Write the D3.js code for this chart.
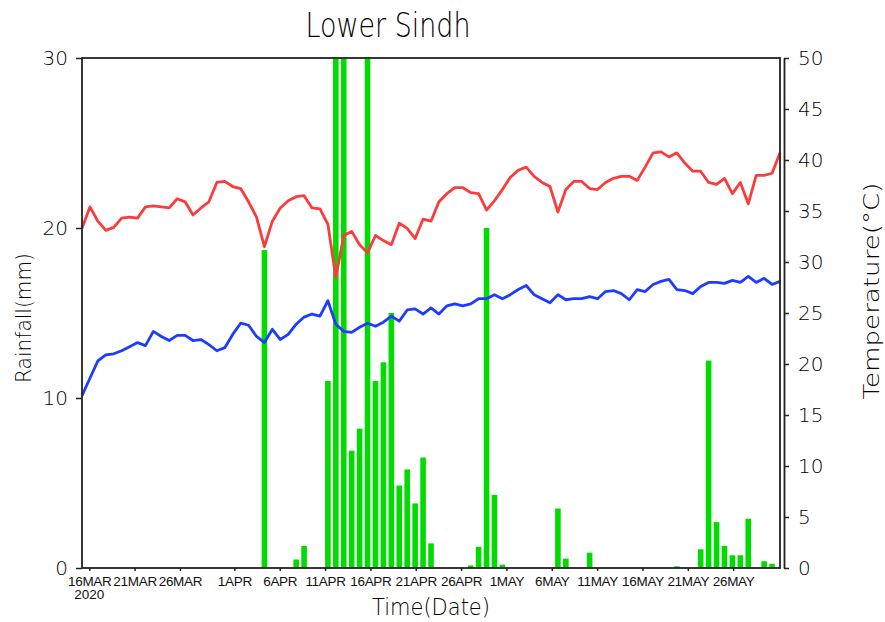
<!DOCTYPE html>
<html>
<head>
<meta charset="utf-8">
<script src="https://cdn.jsdelivr.net/npm/d3@7"></script>
<style>
  body { margin: 0; background: #fff; }
  svg { display: block; font-family: "Liberation Sans", Arial, sans-serif; }
  .thin { font-family: "DejaVu Sans ExtraLight", "DejaVu Sans", "Liberation Sans", sans-serif; font-weight: 200; }
</style>
</head>
<body>
<div id="chart"></div>
<script>
// Daily series (89 steps across the plot)
const rainfall = [
  0, 0, 0, 0, 0, 0, 0, 0, 0, 0,
  0, 0, 0, 0, 0, 0, 0, 0, 0, 0,
  0, 0, 0, 18.7, 0, 0, 0, 0.5, 1.3, 0,
  0, 11.0, 38, 42, 6.9, 8.2, 35, 11.0, 12.1, 15.0,
  4.85, 5.8, 3.8, 6.5, 1.45, 0, 0, 0, 0, 0.15,
  1.25, 20.0, 4.3, 0.2, 0, 0, 0, 0, 0, 0,
  3.5, 0.55, 0, 0, 0.9, 0, 0, 0, 0, 0,
  0, 0, 0, 0, 0, 0.1, 0, 0, 1.1, 12.2,
  2.7, 1.3, 0.75, 0.75, 2.9, 0, 0.4, 0.25, 0
];
const tmax = [
  33.3, 35.4, 34.0, 33.1, 33.4, 34.3, 34.4, 34.3, 35.4, 35.5,
  35.4, 35.3, 36.2, 35.9, 34.6, 35.3, 35.9, 37.8, 37.9, 37.4,
  37.2, 35.9, 34.4, 31.5, 34.0, 35.3, 36.0, 36.4, 36.5, 35.3,
  35.2, 33.7, 28.5, 32.6, 33.0, 31.7, 30.9, 32.6, 32.1, 31.7,
  33.8, 33.3, 32.3, 34.2, 34.0, 35.9, 36.7, 37.3, 37.3, 36.8,
  36.7, 35.1, 36.0, 37.1, 38.3, 39.0, 39.3, 38.4, 37.8, 37.4,
  34.9, 37.1, 37.9, 37.9, 37.2, 37.1, 37.8, 38.2, 38.4, 38.4,
  38.0, 39.3, 40.7, 40.8, 40.3, 40.7, 39.7, 38.9, 38.9, 37.8,
  37.6, 38.2, 36.7, 37.8, 35.7, 38.5, 38.5, 38.7, 40.7
];
const tmin = [
  16.9, 18.6, 20.3, 20.9, 21.0, 21.3, 21.7, 22.1, 21.8, 23.2,
  22.7, 22.3, 22.8, 22.8, 22.3, 22.4, 21.9, 21.3, 21.6, 22.9,
  24.0, 23.8, 22.7, 22.1, 23.4, 22.4, 22.9, 23.9, 24.6, 24.9,
  24.7, 26.2, 23.9, 23.2, 23.1, 23.6, 24.0, 23.7, 24.1, 24.7,
  24.2, 25.3, 25.4, 24.9, 25.5, 24.9, 25.7, 25.9, 25.7, 25.9,
  26.4, 26.4, 26.8, 26.4, 26.8, 27.3, 27.7, 26.8, 26.4, 26.0,
  26.8, 26.3, 26.4, 26.4, 26.6, 26.4, 27.1, 27.2, 26.9, 26.3,
  27.3, 27.1, 27.8, 28.1, 28.3, 27.3, 27.2, 26.9, 27.6, 28.0,
  28.0, 27.9, 28.2, 28.0, 28.6, 28.0, 28.4, 27.8, 28.1
];

// Axis ticks
const tickDates = [
  "2020-03-16", "2020-03-21", "2020-03-26", "2020-04-01", "2020-04-06",
  "2020-04-11", "2020-04-16", "2020-04-21", "2020-04-26", "2020-05-01",
  "2020-05-06", "2020-05-11", "2020-05-16", "2020-05-21", "2020-05-26"
];
const tickLabels = [
  "16MAR", "21MAR", "26MAR", "1APR", "6APR", "11APR", "16APR", "21APR",
  "26APR", "1MAY", "6MAY", "11MAY", "16MAY", "21MAY", "26MAY"
];
const rainTicks = [0, 10, 20, 30];
const tempTicks = [0, 5, 10, 15, 20, 25, 30, 35, 40, 45, 50];

const W = 885, H = 622;
const plotL = 82, plotR = 780, plotT = 58, plotB = 568;

const svg = d3.select("#chart")
  .append("svg")
    .attr("width", W)
    .attr("height", H);

// scales
const xIdx = d3.scaleLinear()
  .domain([0, rainfall.length - 1])
  .range([plotL, plotR]);

const xTime = d3.scaleUtc()
  .domain([new Date(Date.UTC(2020, 2, 15, 4, 48)), new Date(Date.UTC(2020, 4, 31, 4, 0))])
  .range([plotL, plotR]);

const yRain = d3.scaleLinear().domain([0, 30]).range([plotB, plotT]).clamp(true);
const yTemp = d3.scaleLinear().domain([0, 50]).range([plotB, plotT]);

// bars
const barW = 5.6;
svg.append("g")
  .selectAll("rect")
  .data(rainfall)
  .join("rect")
    .attr("x", (d, i) => xIdx(i) - barW / 2)
    .attr("y", d => yRain(d))
    .attr("width", barW)
    .attr("height", d => yRain(0) - yRain(d))
    .attr("fill", "#00dc00");

// lines
const line = d3.line()
  .x((d, i) => xIdx(i))
  .y(d => yTemp(d));

svg.append("path")
  .datum(tmax)
  .attr("d", line)
  .attr("fill", "none")
  .attr("stroke", "#fa3c3c")
  .attr("stroke-width", 2.8)
  .attr("stroke-linejoin", "round");

svg.append("path")
  .datum(tmin)
  .attr("d", line)
  .attr("fill", "none")
  .attr("stroke", "#1e3cff")
  .attr("stroke-width", 2.8)
  .attr("stroke-linejoin", "round");

// frame
svg.append("rect")
  .attr("x", plotL).attr("y", plotT)
  .attr("width", plotR - plotL).attr("height", plotB - plotT)
  .attr("fill", "none")
  .attr("stroke", "#222")
  .attr("stroke-width", 1.8);

// bottom axis
const xAxis = svg.append("g")
  .attr("transform", `translate(0,${plotB})`)
  .call(d3.axisBottom(xTime)
    .tickValues(tickDates.map(d => new Date(d + "T00:00:00Z")))
    .tickFormat((d, i) => tickLabels[i])
    .tickSize(3)
    .tickPadding(5)
    .tickSizeOuter(0));
xAxis.select(".domain").remove();
xAxis.selectAll("text").attr("font-size", 13.5).attr("fill", "#111")
  .attr("letter-spacing", -0.3);
xAxis.selectAll("line").attr("stroke", "#222").attr("stroke-width", 1.5);

svg.append("text")
  .attr("x", xTime(new Date(tickDates[0] + "T00:00:00Z")))
  .attr("y", 599)
  .attr("text-anchor", "middle")
  .attr("font-size", 13.5)
  .attr("fill", "#111")
  .text("2020");

// left axis
const yAxisL = svg.append("g")
  .attr("transform", `translate(${plotL},0)`)
  .call(d3.axisLeft(yRain).tickValues(rainTicks).tickSize(6).tickPadding(8));
yAxisL.select(".domain").remove();
yAxisL.selectAll("text").attr("class", "thin").attr("font-size", 20).attr("fill", "#000");
yAxisL.selectAll("line").attr("stroke", "#222").attr("stroke-width", 1.5);

// right axis
const yAxisR = svg.append("g")
  .attr("transform", `translate(784,0)`)
  .call(d3.axisRight(yTemp).tickValues(tempTicks).tickSize(5).tickPadding(9).tickSizeOuter(0));
yAxisR.select(".domain").attr("stroke", "#222").attr("stroke-width", 1.8);
yAxisR.selectAll("text").attr("class", "thin").attr("font-size", 20).attr("fill", "#000");
yAxisR.selectAll("line").attr("stroke", "#222").attr("stroke-width", 1.5);

// titles
svg.append("text")
  .attr("class", "thin")
  .attr("x", 388).attr("y", 37)
  .attr("text-anchor", "middle")
  .attr("font-size", 33)
  .attr("textLength", 165)
  .attr("lengthAdjust", "spacingAndGlyphs")
  .attr("fill", "#000")
  .text("Lower Sindh");

svg.append("text")
  .attr("class", "thin")
  .attr("x", 431).attr("y", 615)
  .attr("text-anchor", "middle")
  .attr("font-size", 23)
  .attr("textLength", 118)
  .attr("lengthAdjust", "spacingAndGlyphs")
  .attr("fill", "#000")
  .text("Time(Date)");

svg.append("text")
  .attr("class", "thin")
  .attr("transform", "translate(31,318) rotate(-90)")
  .attr("text-anchor", "middle")
  .attr("font-size", 22)
  .attr("textLength", 130)
  .attr("lengthAdjust", "spacingAndGlyphs")
  .attr("fill", "#000")
  .text("Rainfall(mm)");

svg.append("text")
  .attr("class", "thin")
  .attr("transform", "translate(879,291) rotate(-90)")
  .attr("text-anchor", "middle")
  .attr("font-size", 22)
  .attr("textLength", 217)
  .attr("lengthAdjust", "spacingAndGlyphs")
  .attr("fill", "#000")
  .text("Temperature(°C)");
</script>
</body>
</html>
